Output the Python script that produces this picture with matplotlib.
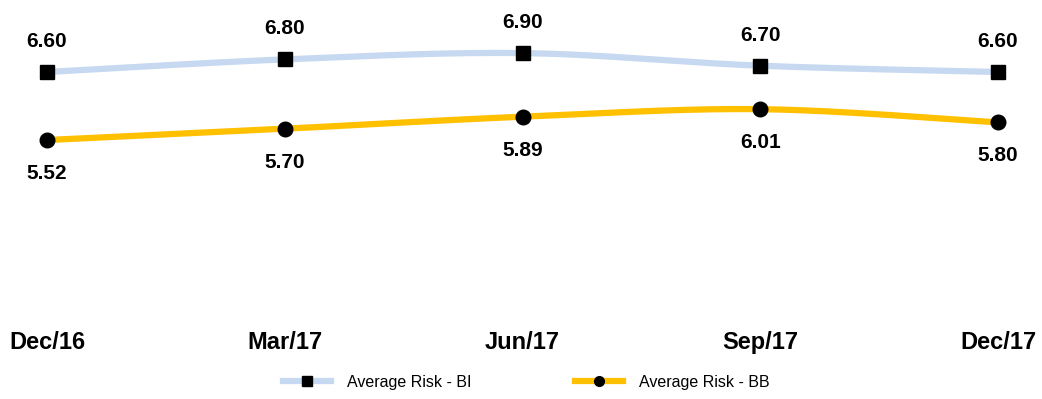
import matplotlib
matplotlib.use("Agg")
import matplotlib.pyplot as plt
import numpy as np

plt.rcParams['font.family'] = ['Liberation Sans', 'DejaVu Sans']

periods = ['Dec/16', 'Mar/17', 'Jun/17', 'Sep/17', 'Dec/17']
risk_bi = [6.60, 6.80, 6.90, 6.70, 6.60]
risk_bb = [5.52, 5.70, 5.89, 6.01, 5.80]


def smooth(xs, ys, n=40):
    # Excel-style smoothed line: cubic Bezier with Catmull-Rom control points
    xs = np.asarray(xs, float)
    ys = np.asarray(ys, float)
    px, py = [], []
    for i in range(len(xs) - 1):
        x0, y0 = (xs[i - 1], ys[i - 1]) if i > 0 else (xs[i], ys[i])
        x3, y3 = (xs[i + 2], ys[i + 2]) if i + 2 < len(xs) else (xs[i + 1], ys[i + 1])
        c1 = (xs[i] + (xs[i + 1] - x0) / 6, ys[i] + (ys[i + 1] - y0) / 6)
        c2 = (xs[i + 1] - (x3 - xs[i]) / 6, ys[i + 1] - (y3 - ys[i]) / 6)
        t = np.linspace(0, 1, n)
        px.append((1-t)**3*xs[i] + 3*(1-t)**2*t*c1[0] + 3*(1-t)*t**2*c2[0] + t**3*xs[i+1])
        py.append((1-t)**3*ys[i] + 3*(1-t)**2*t*c1[1] + 3*(1-t)*t**2*c2[1] + t**3*ys[i+1])
    return np.concatenate(px), np.concatenate(py)


fig = plt.figure(figsize=(10.42, 3.99), dpi=100)
W, H = 1042, 399
ax = fig.add_axes([47 / W, 1 - 320 / H, (998 - 47) / W, 300 / H])

x = np.arange(len(periods))
series = [
    (risk_bi, '#C6D9F1', 's', 'Average Risk - BI', 22),
    (risk_bb, '#FFC000', 'o', 'Average Risk - BB', -24),
]
for vals, color, marker, label, off in series:
    sx, sy = smooth(x, vals)
    ax.plot(sx, sy, color=color, lw=4.5, solid_capstyle='butt', zorder=2, clip_on=False)
    ax.plot(x, vals, ls='none', marker=marker, ms=10.5, color='black', zorder=3, clip_on=False)
    for xi, v in zip(x, vals):
        ax.annotate(f'{v:.2f}', (xi, v), xytext=(0, off), textcoords='offset points',
                    ha='center', va='center', fontsize=15, fontweight='bold')

# legend proxies
handles = [plt.Line2D([], [], color=c, lw=4.5, marker=m, ms=7, mfc='black', mec='black')
           for _, c, m, _, _ in series]
fig.legend(handles, [s[3] for s in series], loc='center', bbox_to_anchor=(0.505, 1 - 382 / H),
           ncol=2, frameon=False, fontsize=11.5, handlelength=3.0, handletextpad=1.0,
           columnspacing=6.5)

ax.set_xlim(0, 4)
ax.set_ylim(6.60 - 248 / 63, 6.60 + 52 / 63)
ax.set_xticks(x)
ax.set_xticklabels(periods, fontsize=17, fontweight='bold')
ax.tick_params(axis='x', length=0, pad=8)
ax.set_yticks([])
for s in ax.spines.values():
    s.set_visible(False)
ax.patch.set_alpha(0)

fig.savefig('out.png', dpi=100)
